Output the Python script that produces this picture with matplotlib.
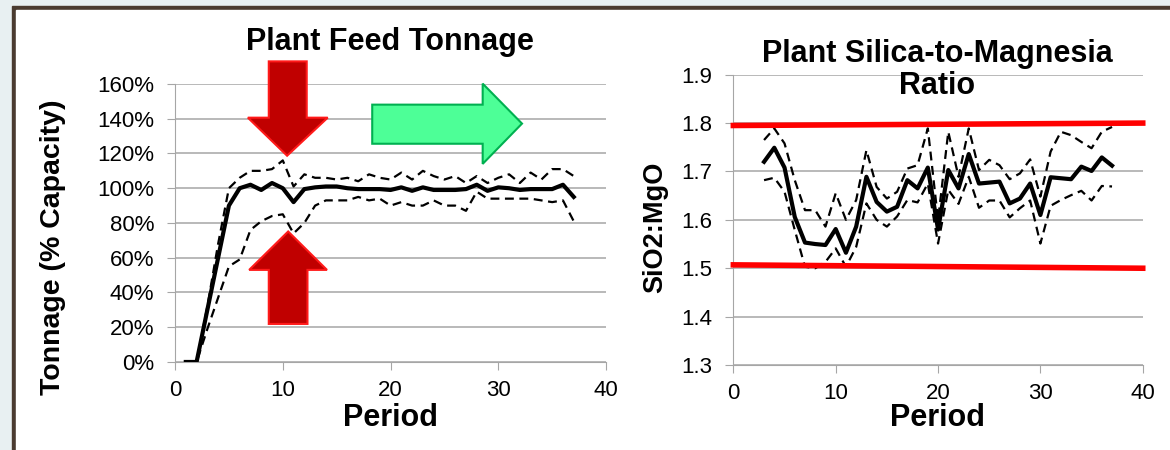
""" Plant feed tonnage and silica-to-magnesia ratio charts.
"""

import numpy as np
import matplotlib.pyplot as plt
from matplotlib.patches import Rectangle, Polygon
from matplotlib.ticker import FuncFormatter


""" DATA """
periods = list(range(1, 38))
tonnage_mean = [0, 0, 30, 60, 90, 100, 102, 99, 103, 100, 92, 99.5, 100.5, 101, 101,
                100, 99.5, 99.5, 99.5, 99, 100.5, 98.5, 100.5, 99, 99, 99, 99.5, 102,
                98.5, 100.5, 100, 99, 99.5, 99.5, 99.5, 102, 95]
tonnage_high = [0, 0, 32, 68, 100, 106, 110, 110, 111, 116, 101, 108, 106, 106, 105,
                106, 104, 108, 106, 105, 109, 105, 110, 107, 105, 107, 103, 107, 103,
                106, 108, 103, 109, 105, 111, 111, 107]
tonnage_low = [0, 0, 19, 37, 55, 59, 76, 81, 84, 85, 74, 80, 90, 93, 93, 93, 95, 93,
               94, 90, 92, 90, 90, 93, 90, 90, 87, 98, 94, 94, 94, 94, 94, 93, 92, 93, 81]

ratio_periods = list(range(3, 38))
ratio_mean = [1.720, 1.749, 1.708, 1.606, 1.553, 1.550, 1.548, 1.581, 1.532, 1.586,
              1.689, 1.637, 1.617, 1.627, 1.682, 1.665, 1.708, 1.580, 1.703, 1.665,
              1.736, 1.675, 1.677, 1.679, 1.634, 1.644, 1.675, 1.610, 1.688, 1.686,
              1.684, 1.710, 1.701, 1.729, 1.712]
ratio_high = [1.765, 1.789, 1.758, 1.682, 1.620, 1.620, 1.586, 1.655, 1.600, 1.641,
              1.744, 1.668, 1.644, 1.658, 1.706, 1.713, 1.789, 1.600, 1.782, 1.689,
              1.789, 1.703, 1.724, 1.713, 1.684, 1.696, 1.725, 1.648, 1.741, 1.782,
              1.775, 1.761, 1.748, 1.782, 1.792]
ratio_low = [1.682, 1.687, 1.658, 1.579, 1.503, 1.500, 1.513, 1.541, 1.503, 1.544,
             1.634, 1.600, 1.586, 1.607, 1.641, 1.636, 1.675, 1.551, 1.662, 1.633,
             1.689, 1.625, 1.640, 1.640, 1.605, 1.624, 1.640, 1.551, 1.629, 1.641,
             1.651, 1.660, 1.640, 1.670, 1.669]

spec_x = [0, 40]
spec_upper = [1.795, 1.800]
spec_lower = [1.507, 1.500]


""" STYLE """
plt.rcParams['font.family'] = ['Liberation Sans', 'DejaVu Sans']
GRID = '#a6a6a6'
DASH = dict(color='black', lw=1.6, ls=(0, (4, 2.5)))
BIG = 22


""" FUNCTIONS """
def style_axes(ax):
    for side in ['top', 'right']:
        ax.spines[side].set_visible(False)
    for side in ['left', 'bottom']:
        ax.spines[side].set_color(GRID)
    ax.grid(axis='y', color=GRID, lw=1.1)
    ax.set_axisbelow(True)
    ax.tick_params(colors=GRID, labelcolor='black', labelsize=16, length=6,
                   direction='out')
    ax.tick_params(axis='y', pad=9)
    ax.tick_params(axis='x', pad=7)
    ax.set_xlim(0, 40)
    ax.set_xticks([0, 10, 20, 30, 40])


def block_arrow(ax, pts, face, edge):
    ax.add_patch(Polygon(pts, closed=True, facecolor=face, edgecolor=edge,
                         lw=1.5, clip_on=False, zorder=5))


def main():
    fig = plt.figure(figsize=(11.7, 4.5), dpi=100)

    # slide background and frame
    fig.patches.append(Rectangle((0, 0), 1, 1, transform=fig.transFigure,
                                 color='#e8f0f2', zorder=-3))
    fig.patches.append(Rectangle((12 / 1170, -0.1), 1.1, 1.1 - 6 / 450,
                                 transform=fig.transFigure, color='#4a3b30', zorder=-2))
    fig.patches.append(Rectangle((16 / 1170, -0.1), 1.1, 1.1 - 10 / 450,
                                 transform=fig.transFigure, color='white', zorder=-1))

    # left: feed tonnage
    ax1 = fig.add_axes([0.1496, 0.1956, 0.3684, 0.6178])
    style_axes(ax1)
    ax1.plot(periods, tonnage_high, **DASH, zorder=3)
    ax1.plot(periods, tonnage_low, **DASH, zorder=3)
    ax1.plot(periods, tonnage_mean, color='black', lw=3, zorder=4)
    ax1.set_ylim(0, 160)
    ax1.set_yticks(np.arange(0, 161, 20))
    ax1.yaxis.set_major_formatter(FuncFormatter(lambda v, _: f"{v:.0f}%"))
    ax1.text(0.499, 1.151, "Plant Feed Tonnage", transform=ax1.transAxes,
             ha='center', va='center', fontsize=BIG, fontweight='bold')
    ax1.set_xlabel("Period", fontsize=BIG, fontweight='bold')
    ax1.xaxis.set_label_coords(0.499, -0.201)
    ax1.xaxis.label.set_va('center')
    ax1.set_ylabel("Tonnage (% Capacity)", fontsize=20.5, fontweight='bold')
    ax1.yaxis.set_label_coords(-0.282, 0.414)
    ax1.yaxis.label.set_va('center')

    red_face, red_edge = '#c00000', '#ff1a1a'
    block_arrow(ax1, [(8.70, 173), (12.22, 173), (12.22, 140.6), (14.17, 140.6),
                      (10.4, 118.7), (6.76, 140.6), (8.70, 140.6)], red_face, red_edge)
    block_arrow(ax1, [(8.70, 21.9), (12.29, 21.9), (12.29, 53.0), (14.10, 53.0),
                      (10.5, 75.1), (6.88, 53.0), (8.70, 53.0)], red_face, red_edge)
    block_arrow(ax1, [(18.3, 125.6), (18.3, 148.1), (28.55, 148.1), (28.55, 160.2),
                      (32.2, 137.2), (28.55, 114.0), (28.55, 125.6)], '#4dff97', '#00b050')

    # right: silica-to-magnesia ratio
    ax2 = fig.add_axes([0.6268, 0.1889, 0.3499, 0.6451])
    style_axes(ax2)
    ax2.plot(ratio_periods, ratio_high, **DASH, zorder=3)
    ax2.plot(ratio_periods, ratio_low, **DASH, zorder=3)
    ax2.plot(ratio_periods, ratio_mean, color='black', lw=3, zorder=4)
    ax2.plot(spec_x, spec_upper, color='#ff0000', lw=4, zorder=5, clip_on=False)
    ax2.plot(spec_x, spec_lower, color='#ff0000', lw=4, zorder=5, clip_on=False)
    ax2.set_ylim(1.3, 1.9)
    ax2.set_yticks(np.arange(1.3, 1.91, 0.1))
    ax2.yaxis.set_major_formatter(FuncFormatter(lambda v, _: f"{v:.1f}"))
    ax2.text(0.498, 1.016, "Plant Silica-to-Magnesia\nRatio", transform=ax2.transAxes,
             ha='center', va='center', fontsize=BIG, fontweight='bold',
             linespacing=1.12)
    ax2.set_xlabel("Period", fontsize=BIG, fontweight='bold')
    ax2.xaxis.set_label_coords(0.498, -0.182)
    ax2.xaxis.label.set_va('center')
    ax2.set_ylabel("SiO2:MgO", fontsize=19.5, fontweight='bold')
    ax2.yaxis.set_label_coords(-0.191, 0.475)
    ax2.yaxis.label.set_va('center')

    fig.savefig("out.png", dpi=100)
    plt.close(fig)


""" EXECUTION """
if __name__ == "__main__":
    main()
